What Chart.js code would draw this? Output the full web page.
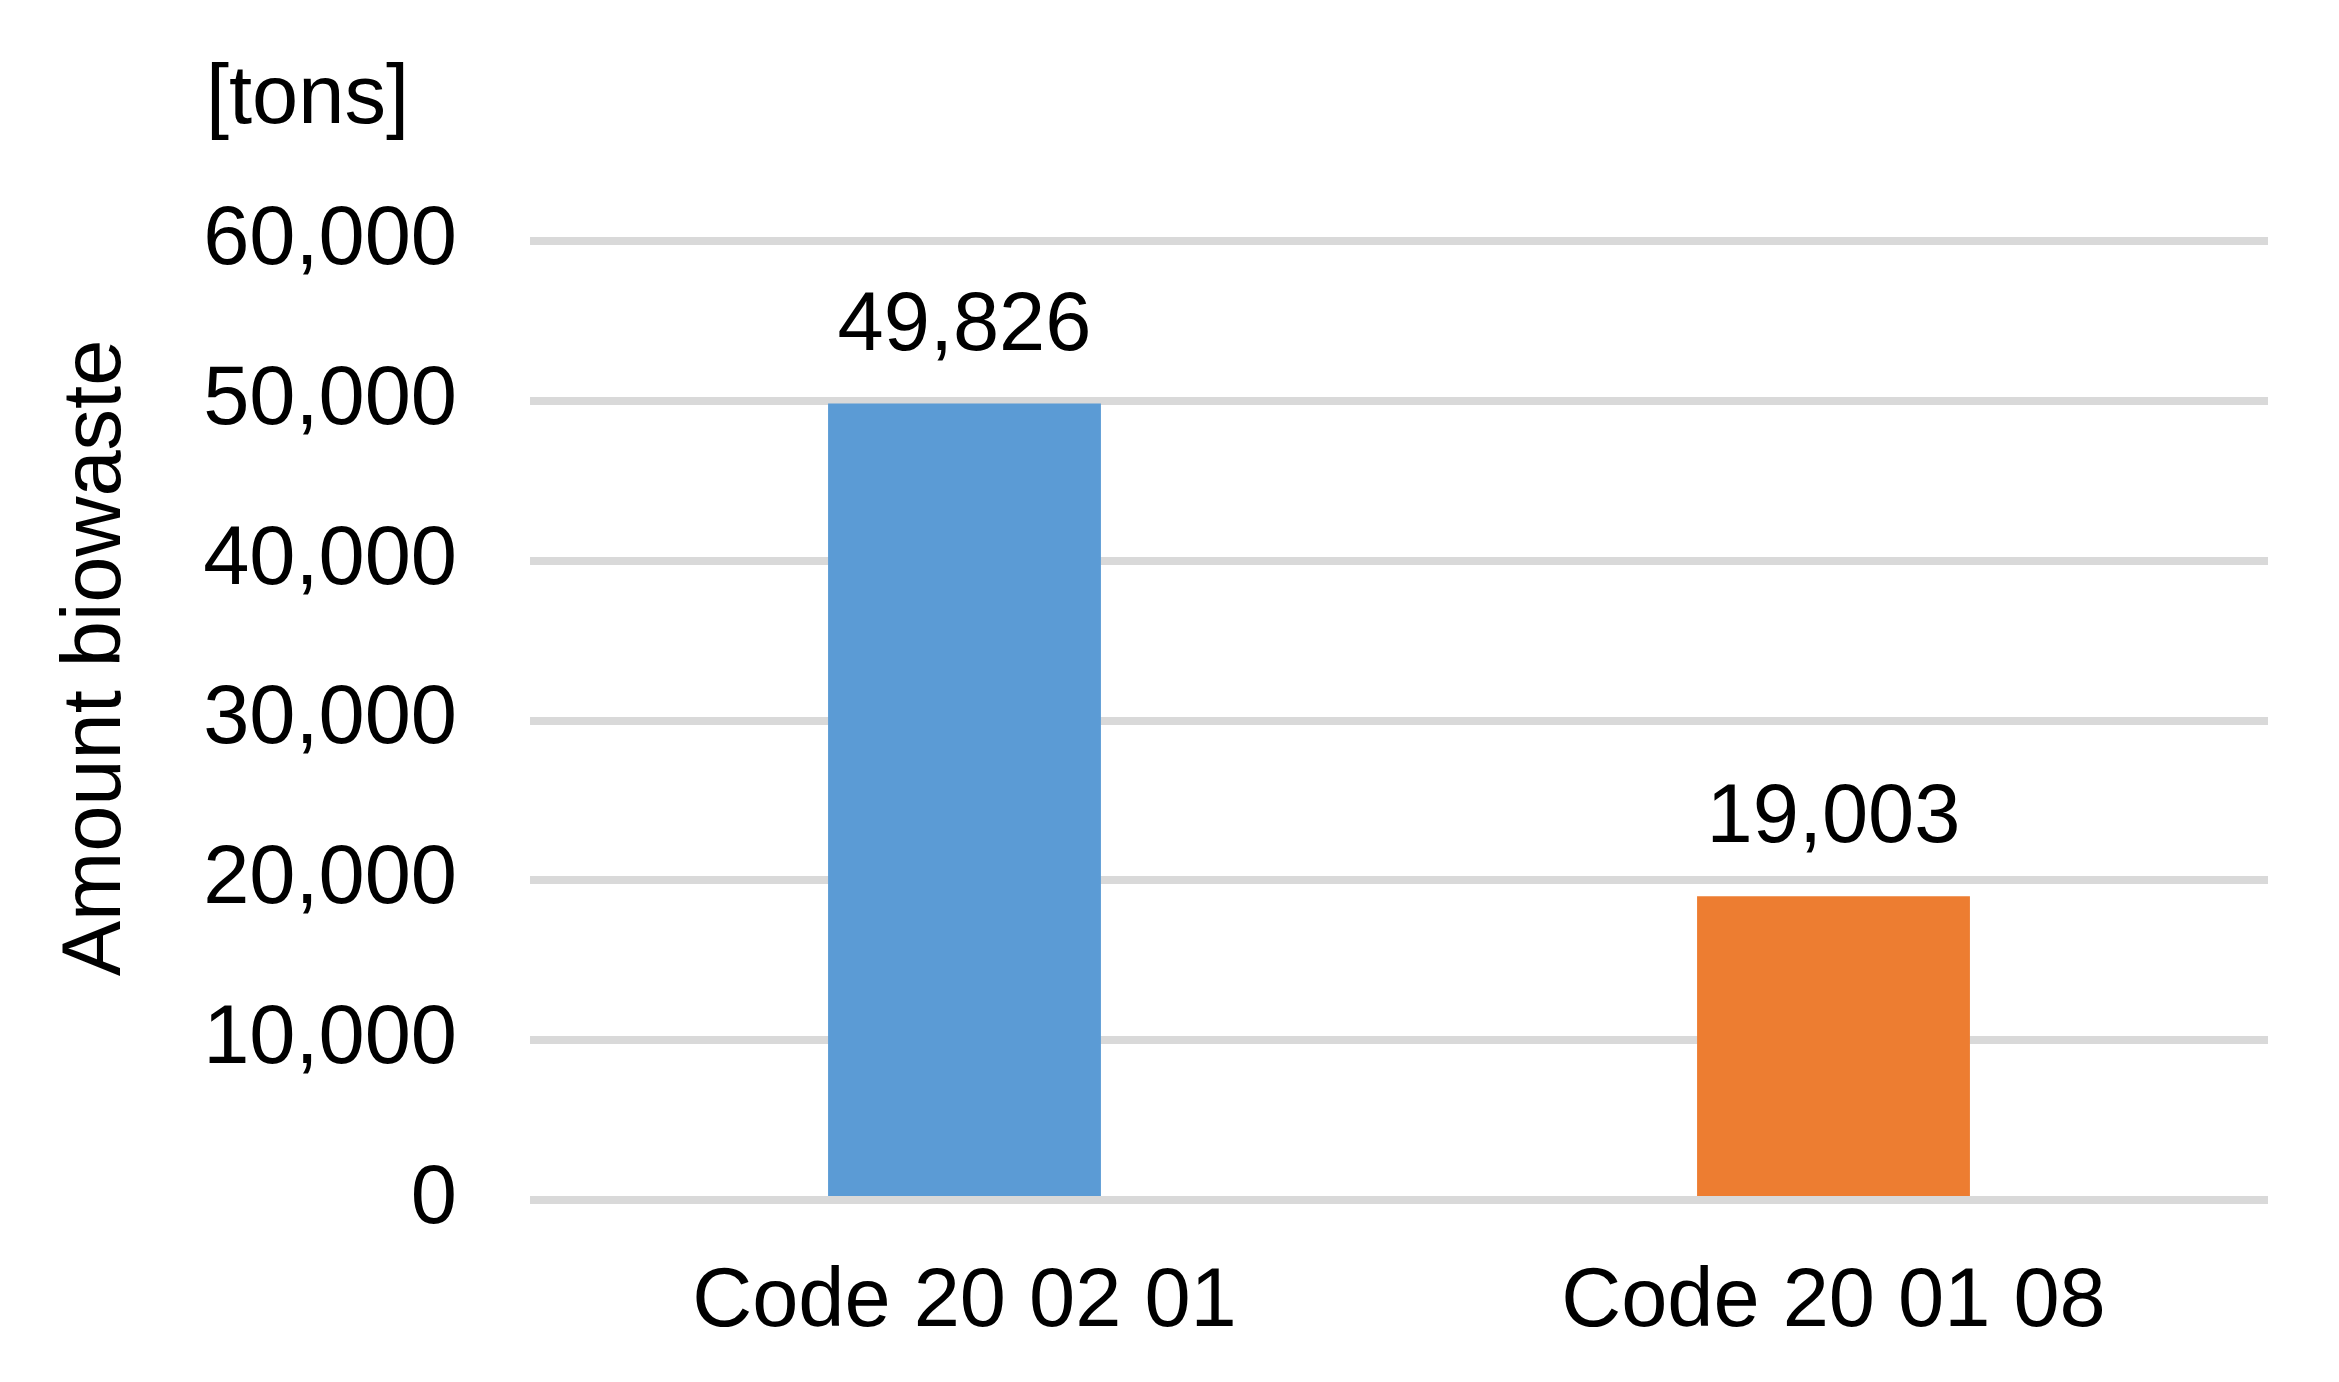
<!DOCTYPE html>
<html>
<head>
<meta charset="utf-8">
<script src="https://cdn.jsdelivr.net/npm/chart.js@4/dist/chart.umd.min.js"></script>
<style>
  html, body { margin: 0; padding: 0; background: #ffffff; }
  #wrap { width: 2339px; height: 1382px; position: relative; }
</style>
</head>
<body>
<div id="wrap"><canvas id="c" width="2339" height="1382"></canvas></div>
<script>
// ---- data ----
const categories = ["Code 20 02 01", "Code 20 01 08"];
const amounts = [49826, 19003];
const barColors = ["#5B9BD5", "#ED7D31"];
const yMin = 0;
const yMax = 60000;
const yStep = 10000;
const unitLabel = "[tons]";
const yTitle = "Amount biowaste";

const FONT = "'Liberation Sans', Arial, Helvetica, sans-serif";
const FSIZE = 83;
const fmt = v => Number(v).toLocaleString('en-US');

const extraText = {
  id: 'extraText',
  afterDraw(chart) {
    const ctx = chart.ctx;
    ctx.save();
    ctx.fillStyle = '#000000';
    ctx.font = FSIZE + 'px ' + FONT;
    // unit label
    ctx.textAlign = 'left';
    ctx.textBaseline = 'alphabetic';
    ctx.fillText(unitLabel, 206, 123);
    // y title
    ctx.save();
    ctx.translate(120, 658);
    ctx.rotate(-Math.PI / 2);
    ctx.textAlign = 'center';
    ctx.textBaseline = 'alphabetic';
    ctx.fillText(yTitle, 0, 0);
    ctx.restore();
    // data labels
    const meta = chart.getDatasetMeta(0);
    ctx.textAlign = 'center';
    ctx.textBaseline = 'alphabetic';
    meta.data.forEach((bar, i) => {
      ctx.fillText(fmt(chart.data.datasets[0].data[i]), bar.x, bar.y - 54);
    });
    ctx.restore();
  }
};

new Chart(document.getElementById('c'), {
  type: 'bar',
  data: {
    labels: categories,
    datasets: [{
      data: amounts,
      backgroundColor: barColors,
      borderWidth: 0,
      categoryPercentage: 1.0,
      barPercentage: 0.314
    }]
  },
  options: {
    responsive: false,
    animation: false,
    devicePixelRatio: 1,
    layout: { padding: { left: 0, right: 71, top: 241, bottom: 0 } },
    plugins: { legend: { display: false }, tooltip: { enabled: false } },
    scales: {
      x: {
        grid: { display: false, drawTicks: false },
        border: { display: false },
        ticks: {
          color: '#000000',
          font: { family: FONT, size: FSIZE },
          padding: 53,
          maxRotation: 0,
          autoSkip: false
        },
        afterFit(scale) { scale.height = 182; }
      },
      y: {
        min: yMin,
        max: yMax,
        grid: { color: '#D9D9D9', lineWidth: 8, drawTicks: false },
        border: { display: false },
        ticks: {
          stepSize: yStep,
          color: '#000000',
          font: { family: FONT, size: FSIZE },
          padding: 73,
          callback: v => fmt(v)
        },
        afterFit(scale) { scale.width = 530; }
      }
    }
  },
  plugins: [extraText]
});
</script>
</body>
</html>
